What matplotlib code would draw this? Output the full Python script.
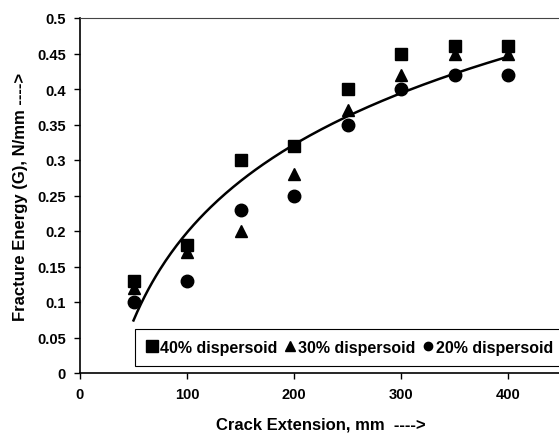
import numpy as np
import matplotlib
matplotlib.use("Agg")
import matplotlib.pyplot as plt

plt.rcParams['font.family'] = ['Liberation Sans', 'DejaVu Sans']
plt.rcParams['font.weight'] = 'bold'

crack = [50, 100, 150, 200, 250, 300, 350, 400]
g40 = [0.13, 0.18, 0.30, 0.32, 0.40, 0.45, 0.46, 0.46]
g30 = [0.12, 0.17, 0.20, 0.28, 0.37, 0.42, 0.45, 0.45]
g20 = [0.10, 0.13, 0.23, 0.25, 0.35, 0.40, 0.42, 0.42]

# log trendline through all points
allx = np.array(crack * 3, dtype=float)
ally = np.array(g40 + g30 + g20)
a, b = np.polyfit(np.log(allx), ally, 1)
xs = np.linspace(50, 400, 200)
ys = a * np.log(xs) + b

fig = plt.figure(figsize=(5.59, 4.35), dpi=100)
ax = fig.add_axes([80 / 559, 61 / 435, 481.5 / 559, 355 / 435])

ax.plot(xs, ys, color='black', lw=1.8, zorder=2)
ax.plot(crack, g40, 's', color='black', ms=9, label='40% dispersoid', zorder=3)
ax.plot(crack, g30, '^', color='black', ms=9, label='30% dispersoid', zorder=3)
ax.plot(crack, g20, 'o', color='black', ms=9, label='20% dispersoid', zorder=3)

ax.set_xlim(0, 450)
ax.set_ylim(0, 0.5)
ax.set_xticks([0, 100, 200, 300, 400])
yt = np.round(np.arange(0, 0.51, 0.05), 2)
ax.set_yticks(yt)
ax.set_yticklabels(['0' if v == 0 else ('%g' % v) for v in yt])
ax.tick_params(direction='out', length=4, width=1, labelsize=10.5, pad=6)
for lab in ax.get_xticklabels() + ax.get_yticklabels():
    lab.set_fontweight('bold')

ax.spines['right'].set_visible(False)
ax.spines['top'].set_color('#444444')
ax.spines['left'].set_linewidth(1.2)
ax.spines['bottom'].set_linewidth(1.2)

ax.set_xlabel('Crack Extension, mm  ---->', fontsize=12, fontweight='bold', labelpad=11)
ax.set_ylabel('Fracture Energy (G), N/mm ---->', fontsize=12, fontweight='bold', labelpad=7)

leg = ax.legend(loc='lower left', bbox_to_anchor=(0.114, 0.02), ncol=3,
                frameon=True, fancybox=False, edgecolor='black', framealpha=1,
                handlelength=0.7, handletextpad=0.15, columnspacing=0.45,
                borderpad=0.7, borderaxespad=0,
                prop={'weight': 'bold', 'size': 11.5})
leg.get_frame().set_linewidth(0.8)
for h, s in zip(leg.legend_handles, [9, 6.5, 6]):
    h.set_markersize(s)

fig.savefig('out.png', dpi=100)
